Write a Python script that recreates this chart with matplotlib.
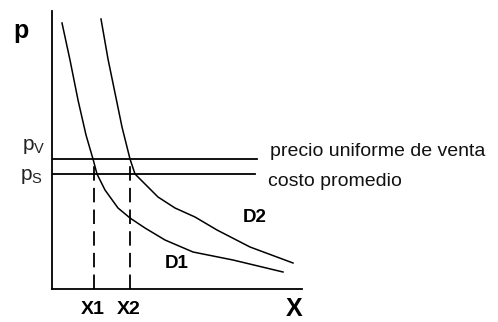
import matplotlib
matplotlib.use("Agg")
import matplotlib.pyplot as plt

plt.rcParams['font.family'] = ['Liberation Sans', 'DejaVu Sans']

# Demand curves (quantity, price) in diagram units
d1_x = [10, 18, 26, 34, 41, 45, 53, 66, 78, 93, 113, 141, 181, 231]
d1_y = [266, 229, 189, 154, 130, 115, 99, 81, 71, 61, 49, 37, 29, 17]
d2_x = [49, 56, 63, 70, 78, 83, 91, 106, 123, 143, 165, 198, 241]
d2_y = [270, 230, 196, 162, 130, 115, 107, 92, 81, 72, 59, 42, 26]

# Price levels and their extent
p_venta = 130
p_costo = 115
line_end = [205, 203]
line_labels = ["precio uniforme de venta", "costo promedio"]
label_offset = [7, -7]

# Quantities marked on the X axis
x_marks = [42, 78]
x_mark_labels = ["X1", "X2"]

W, H = 498, 322
fig = plt.figure(figsize=(W / 100, H / 100), dpi=100)
ax = fig.add_axes([52 / W, 33 / H, 250 / W, 278 / H])
ax.set_xlim(0, 250)
ax.set_ylim(0, 278)
for s in ("top", "right"):
    ax.spines[s].set_visible(False)
for s in ("left", "bottom"):
    ax.spines[s].set_linewidth(1.3)
ax.set_xticks([])
ax.set_yticks([])

ax.plot(d1_x, d1_y, color="black", lw=1.1)
ax.plot(d2_x, d2_y, color="black", lw=1.1)

for yv, xe, lab, off in zip([p_venta, p_costo], line_end, line_labels,
                            label_offset):
    ax.plot([0, xe], [yv, yv], color="black", lw=1.3)
    ax.text(xe + 13, yv + off, lab, fontsize=14, va="center", ha="left",
            color="#111111", clip_on=False)

for xm, lab in zip(x_marks, x_mark_labels):
    ax.plot([xm, xm], [0, p_venta], color="black", lw=1.3,
            dashes=(8, 4))
    ax.text(xm - 1, -21, lab, fontsize=14, fontweight="bold", ha="center",
            va="center", clip_on=False)

ax.text(-7, p_venta + 12, r"$\mathregular{p_V}$", fontsize=15, ha="right",
        va="center", clip_on=False, color="#222222")
ax.text(-9, p_costo - 2, r"$\mathregular{p_S}$", fontsize=15, ha="right",
        va="center", clip_on=False, color="#222222")

ax.text(-39, 258, "p", fontsize=18, fontweight="bold", ha="left",
        va="center", clip_on=False)
ax.text(242, -20, "X", fontsize=18, fontweight="bold", ha="center",
        va="center", clip_on=False)

ax.text(125, 25, "D1", fontsize=13.5, fontweight="bold", ha="center",
        va="center")
ax.text(203, 72, "D2", fontsize=13.5, fontweight="bold", ha="center",
        va="center")

fig.savefig("out.png", dpi=100, facecolor="white")
